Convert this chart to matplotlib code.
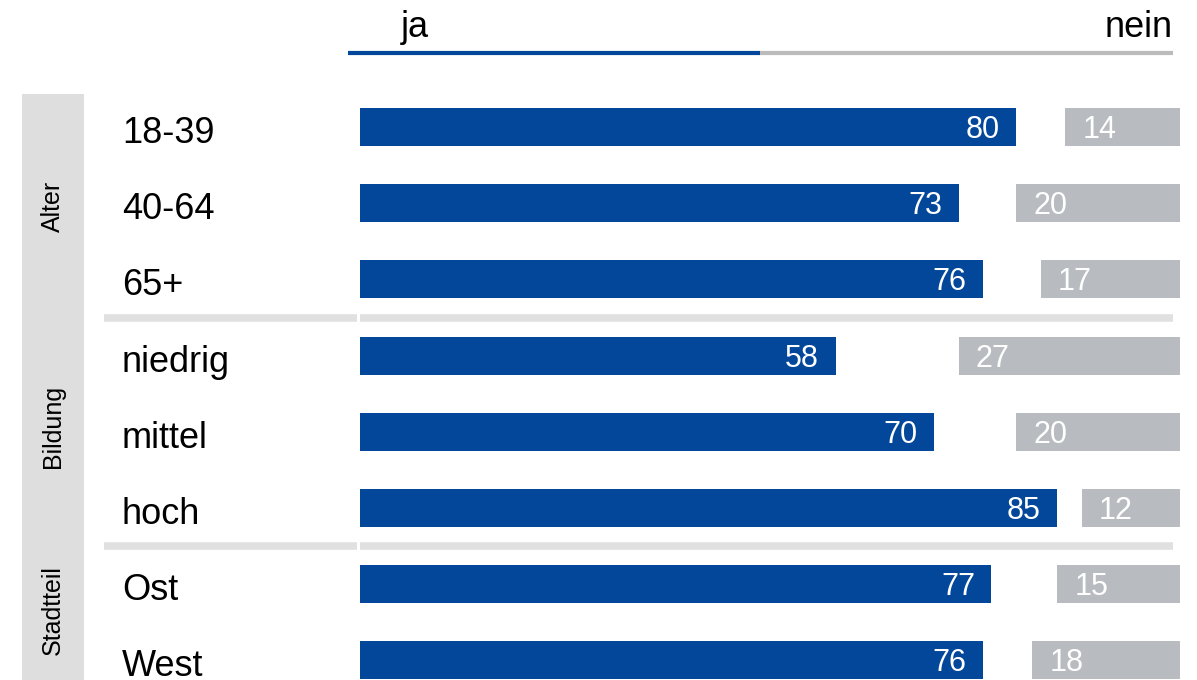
import matplotlib
matplotlib.use("Agg")
import matplotlib.pyplot as plt
from matplotlib.patches import Rectangle

plt.rcParams['font.family'] = ['Liberation Sans', 'DejaVu Sans']

# data
categories = ["18-39", "40-64", "65+", "niedrig", "mittel", "hoch", "Ost", "West"]
ja = [80, 73, 76, 58, 70, 85, 77, 76]
nein = [14, 20, 17, 27, 20, 12, 15, 18]
groups = ["Alter", "Bildung", "Stadtteil"]
group_label_y = [206, 426, 610]  # pixel centres of the group labels
separators = [2.5, 5.5]

blue = '#03479b'
grey = '#b8bbbf'
light = '#e0e0e0'

W, H = 1197, 680
fig = plt.figure(figsize=(W / 100, H / 100), dpi=100)

# axes: x 0..100 -> px 360..1180, rows centred at 127 + 76.2*i
row_h = 76.2
top_px = 127 - row_h / 2
bot_px = top_px + row_h * len(categories)
ax = fig.add_axes([360 / W, 1 - bot_px / H, 820 / W, (bot_px - top_px) / H])
ax.set_xlim(0, 100)
ax.set_ylim(len(categories) - 0.5, -0.5)
ax.axis('off')

ypos = list(range(len(categories)))
ax.barh(ypos, ja, height=0.5, color=blue)
ax.barh(ypos, nein, left=[100 - n for n in nein], height=0.5, color=grey)

# value labels (baseline placed ~11px below row centre)
vb = 11 / row_h
for y, v in zip(ypos, ja):
    ax.text(v - 2.0, y + vb, str(v), ha='right', va='baseline', color='white', fontsize=22)
for y, v in zip(ypos, nein):
    ax.text(100 - v + 2.1, y + vb, str(v), ha='left', va='baseline', color='white', fontsize=22)

px = 820 / 100  # pixels per unit
lb = 16 / row_h
for y, lab in zip(ypos, categories):
    ax.text((122 - 360) / px, y + lb, lab, ha='left', va='baseline', fontsize=26, clip_on=False)

# separators between groups
for s in separators:
    ax.plot([(104 - 360) / px, (357 - 360) / px], [s, s], color=light, lw=5.4,
            solid_capstyle='butt', clip_on=False)
    ax.plot([0, (1173 - 360) / px], [s, s], color=light, lw=5.4,
            solid_capstyle='butt', clip_on=False)

# header
hy = (53 - 127) / row_h
ax.plot([(348 - 360) / px, (760 - 360) / px], [hy, hy], color=blue, lw=3,
        solid_capstyle='butt', clip_on=False)
ax.plot([(760 - 360) / px, (1173 - 360) / px], [hy, hy], color='#bbbbbb', lw=3,
        solid_capstyle='butt', clip_on=False)
fig.text(415 / W, 1 - 37 / H, "ja", ha='center', va='baseline', fontsize=26)
fig.text(1173 / W, 1 - 37 / H, "nein", ha='right', va='baseline', fontsize=26)

# group box + labels
fig.patches.append(Rectangle((22 / W, 0), 62 / W, 1 - 94 / H, transform=fig.transFigure,
                             facecolor='#dedede', edgecolor='none', zorder=0))
for g, gy in zip(groups, group_label_y):
    fig.text(53 / W, 1 - gy / H, g, rotation=90, ha='center', va='center', fontsize=18)

fig.savefig("out.png", dpi=100)
